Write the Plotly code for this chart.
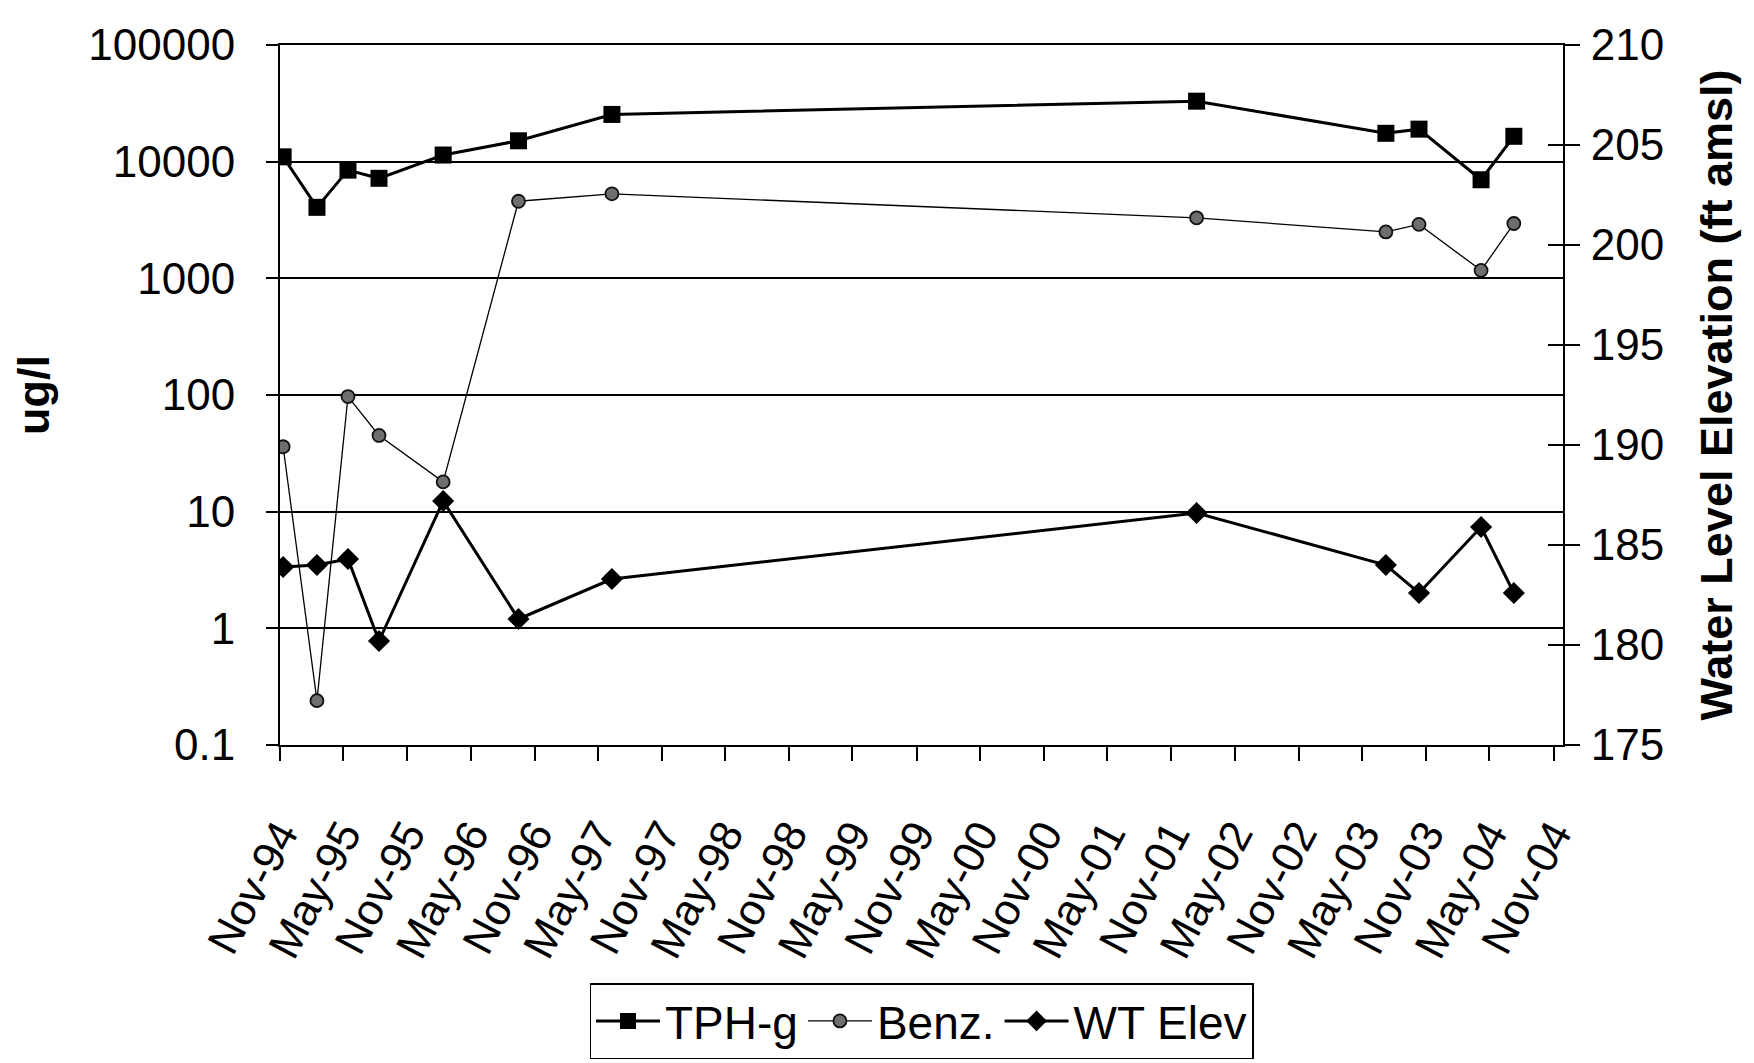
import plotly.graph_objects as go

# ---- data ----
dates = ["1994-11-10", "1995-02-15", "1995-05-15", "1995-08-12", "1996-02-12",
         "1996-09-15", "1997-06-10", "2002-01-12", "2003-07-09", "2003-10-12",
         "2004-04-07", "2004-07-10"]
tph_g = [11000, 4060, 8460, 7200, 11400, 15100, 25400, 33000, 17500, 19000, 7000, 16500]
benz = [36, 0.24, 97, 45, 18, 4580, 5300, 3300, 2500, 2900, 1170, 2950]
wt_elev = [183.9, 184.0, 184.3, 180.2, 187.2, 181.3, 183.3, 186.6, 184.0, 182.6, 185.9, 182.6]

x_tick_vals = ["1994-11-01", "1995-05-01", "1995-11-01", "1996-05-01", "1996-11-01",
               "1997-05-01", "1997-11-01", "1998-05-01", "1998-11-01", "1999-05-01",
               "1999-11-01", "2000-05-01", "2000-11-01", "2001-05-01", "2001-11-01",
               "2002-05-01", "2002-11-01", "2003-05-01", "2003-11-01", "2004-05-01",
               "2004-11-01"]
x_tick_text = ["Nov-94", "May-95", "Nov-95", "May-96", "Nov-96", "May-97", "Nov-97",
               "May-98", "Nov-98", "May-99", "Nov-99", "May-00", "Nov-00", "May-01",
               "Nov-01", "May-02", "Nov-02", "May-03", "Nov-03", "May-04", "Nov-04"]
y_tick_vals = [0.1, 1, 10, 100, 1000, 10000, 100000]
y_tick_text = ["0.1", "1", "10", "100", "1000", "10000", "100000"]
y2_tick_vals = [175, 180, 185, 190, 195, 200, 205, 210]

FONT = "Liberation Sans, Arial, sans-serif"

fig = go.Figure()
fig.add_trace(go.Scatter(
    x=dates, y=tph_g, name="TPH-g", mode="lines+markers",
    line=dict(color="black", width=3),
    marker=dict(symbol="square", size=17, color="black")))
fig.add_trace(go.Scatter(
    x=dates, y=benz, name="Benz.", mode="lines+markers",
    line=dict(color="black", width=1.3),
    marker=dict(symbol="circle", size=13, color="#6e6e6e",
                line=dict(color="#111111", width=1.8))))
fig.add_trace(go.Scatter(
    x=dates, y=wt_elev, name="WT Elev", mode="lines+markers", yaxis="y2",
    line=dict(color="black", width=3),
    marker=dict(symbol="diamond", size=17, color="black")))
# helper trace so the inner half of the right-axis cross ticks is drawn
fig.add_trace(go.Scatter(x=[dates[0]], y=[wt_elev[0]], yaxis="y3", mode="markers",
                         marker=dict(opacity=0), showlegend=False, hoverinfo="skip"))

fig.update_layout(
    width=1754, height=1063,
    margin=dict(l=272, r=199, t=35, b=306),
    paper_bgcolor="white", plot_bgcolor="white",
    font=dict(family=FONT, size=44, color="black"),
    showlegend=True,
    legend=dict(orientation="h", x=0.50, xanchor="center", y=-0.34, yanchor="top",
                bordercolor="black", borderwidth=1.5, bgcolor="white",
                font=dict(family=FONT, size=46, color="black"),
                itemwidth=64, tracegroupgap=0),
    xaxis=dict(
        type="date", range=["1994-11-01", "2004-11-28"],
        tickmode="array", tickvals=x_tick_vals, ticktext=x_tick_text,
        tickangle=-62, tickfont=dict(family=FONT, size=44, color="black"),
        ticks="outside", ticklen=14, tickwidth=1.5, tickcolor="black",
        ticklabelstandoff=30,
        showline=True, linecolor="black", linewidth=2, mirror=True,
        showgrid=False, zeroline=False),
    yaxis=dict(
        type="log", range=[-1, 5],
        tickmode="array", tickvals=y_tick_vals, ticktext=y_tick_text,
        tickfont=dict(family=FONT, size=44, color="black"),
        ticks="outside", ticklen=12, tickwidth=1.5, tickcolor="black",
        ticklabelstandoff=22,
        showline=True, linecolor="black", linewidth=2,
        showgrid=True, gridcolor="black", gridwidth=1.5, zeroline=False,
        title=dict(text="<b>ug/l</b>", font=dict(family=FONT, size=45, color="black"),
                   standoff=35)),
    yaxis2=dict(
        overlaying="y", side="right", anchor="x", range=[175, 210],
        tickmode="array", tickvals=y2_tick_vals,
        tickfont=dict(family=FONT, size=44, color="black"),
        ticks="outside", ticklen=15, tickwidth=1.5, tickcolor="black",
        ticklabelstandoff=2,
        showline=True, linecolor="black", linewidth=2,
        showgrid=False, zeroline=False,
        title=dict(text="<b>Water Level Elevation (ft amsl)</b>",
                   font=dict(family=FONT, size=45, color="black"), standoff=37)),
    yaxis3=dict(
        overlaying="y", side="right", anchor="x", range=[175, 210],
        tickmode="array", tickvals=y2_tick_vals,
        ticks="inside", ticklen=15, tickwidth=1.5, tickcolor="black",
        showticklabels=False, showline=False, showgrid=False, zeroline=False),
)

fig.write_html("out.html")
